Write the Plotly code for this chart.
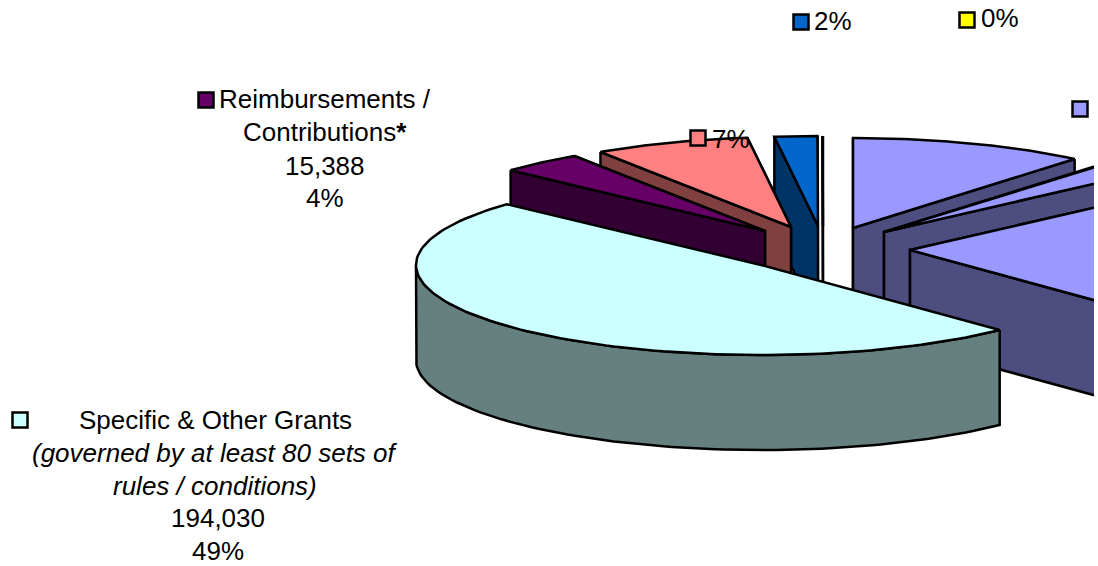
import numpy as np
import plotly.graph_objects as go

# Data, clockwise from 12 o'clock
segments = ["Segment A", "Segment B", "Segment C", "Specific & Other Grants",
            "Reimbursements / Contributions", "Segment F", "Segment G", "Segment H"]
amounts = [44000, 9500, 96450, 194030, 15388, 28900, 7900, 100]

# Style
top_colors = ["#9999FF", "#9999FF", "#9999FF", "#CCFFFF", "#660066", "#FF8080", "#0066CC", "#FFFF00"]
side_colors = ["#4D4D80", "#4D4D80", "#4D4D80", "#668080", "#330033", "#804040", "#003366", "#808000"]
centres = [(853, 228), (884, 232), (910, 250), (761, 265), (765, 231), (791, 227), (818, 226), (823, 226)]
draw_order = [0, 1, 2, 7, 6, 5, 4, 3]
RX, RY, DEPTH = 345, 90, 95
START = 270.0
LINE = 2.5

fig = go.Figure()


def poly(xs, ys, fill):
    fig.add_trace(go.Scatter(
        x=list(xs) + [xs[0]], y=list(ys) + [ys[0]], mode="lines", fill="toself",
        fillcolor=fill, line=dict(color="black", width=LINE), hoverinfo="skip", showlegend=False))


edges = START + np.cumsum([0] + amounts) / sum(amounts) * 360.0
for i in draw_order:
    a, b = edges[i], edges[i + 1]
    cx, cy = centres[i]
    t = np.radians(np.linspace(a, b, 121))
    rx, ry = cx + RX * np.cos(t), cy + RY * np.sin(t)

    def face(j):
        return ([rx[j], cx, cx, rx[j]], [ry[j], cy, cy + DEPTH, ry[j] + DEPTH])

    # hidden cut face first, the one facing the viewer second
    start_visible = np.sin(np.radians((a + b) / 2)) < 0 and np.cos(np.radians((a + b) / 2)) < 0
    order = [-1, 0] if start_visible else [0, -1]
    if i != 3:
        for j in order:
            poly(*face(j), side_colors[i])
    mask = np.sin(t) >= 0
    if mask.any():
        poly(list(rx[mask]) + list(rx[mask][::-1]),
             list(ry[mask]) + list(ry[mask][::-1] + DEPTH), side_colors[i])
    poly([cx] + list(rx), [cy] + list(ry), top_colors[i])

# Label keys
key_x = [801, 967, 1080, 206, 20, 698]
key_y = [22, 20, 109, 100, 420, 138]
key_c = [top_colors[6], top_colors[7], top_colors[0], top_colors[4], top_colors[3], top_colors[5]]
fig.add_trace(go.Scatter(
    x=key_x, y=key_y, mode="markers", cliponaxis=False, hoverinfo="skip", showlegend=False,
    marker=dict(symbol="square", size=15, color=key_c, line=dict(color="black", width=2.5))))

labels = [
    ("2%", 833, 21),
    ("0%", 1000, 18),
    ("7%", 731, 139),
    ("Reimbursements /", 325, 99),
    ("Contributions<b>*</b>", 325, 132),
    ("15,388", 325, 166),
    ("4%", 325, 198),
    ("Specific &amp; Other Grants", 215, 420),
    ("<i>(governed by at least 80 sets of</i>", 215, 453),
    ("<i>rules / conditions)</i>", 215, 486),
    ("194,030", 218, 518),
    ("49%", 218, 551),
]
for text, x, y in labels:
    fig.add_annotation(x=x, y=y, text=text, showarrow=False, xanchor="center", yanchor="middle",
                       align="center", font=dict(family="Liberation Sans", size=26, color="black"))

fig.update_layout(
    width=1098, height=566, margin=dict(l=0, r=0, t=0, b=0, pad=0),
    paper_bgcolor="white", plot_bgcolor="white", showlegend=False,
    xaxis=dict(range=[0, 1094], domain=[0, 1094 / 1098], visible=False, fixedrange=True),
    yaxis=dict(range=[566, 0], domain=[0, 1], visible=False, fixedrange=True),
)
fig.write_html("out.html", config=dict(displayModeBar=False),
               post_script="document.body.style.margin='0';document.body.style.overflow='hidden';")
